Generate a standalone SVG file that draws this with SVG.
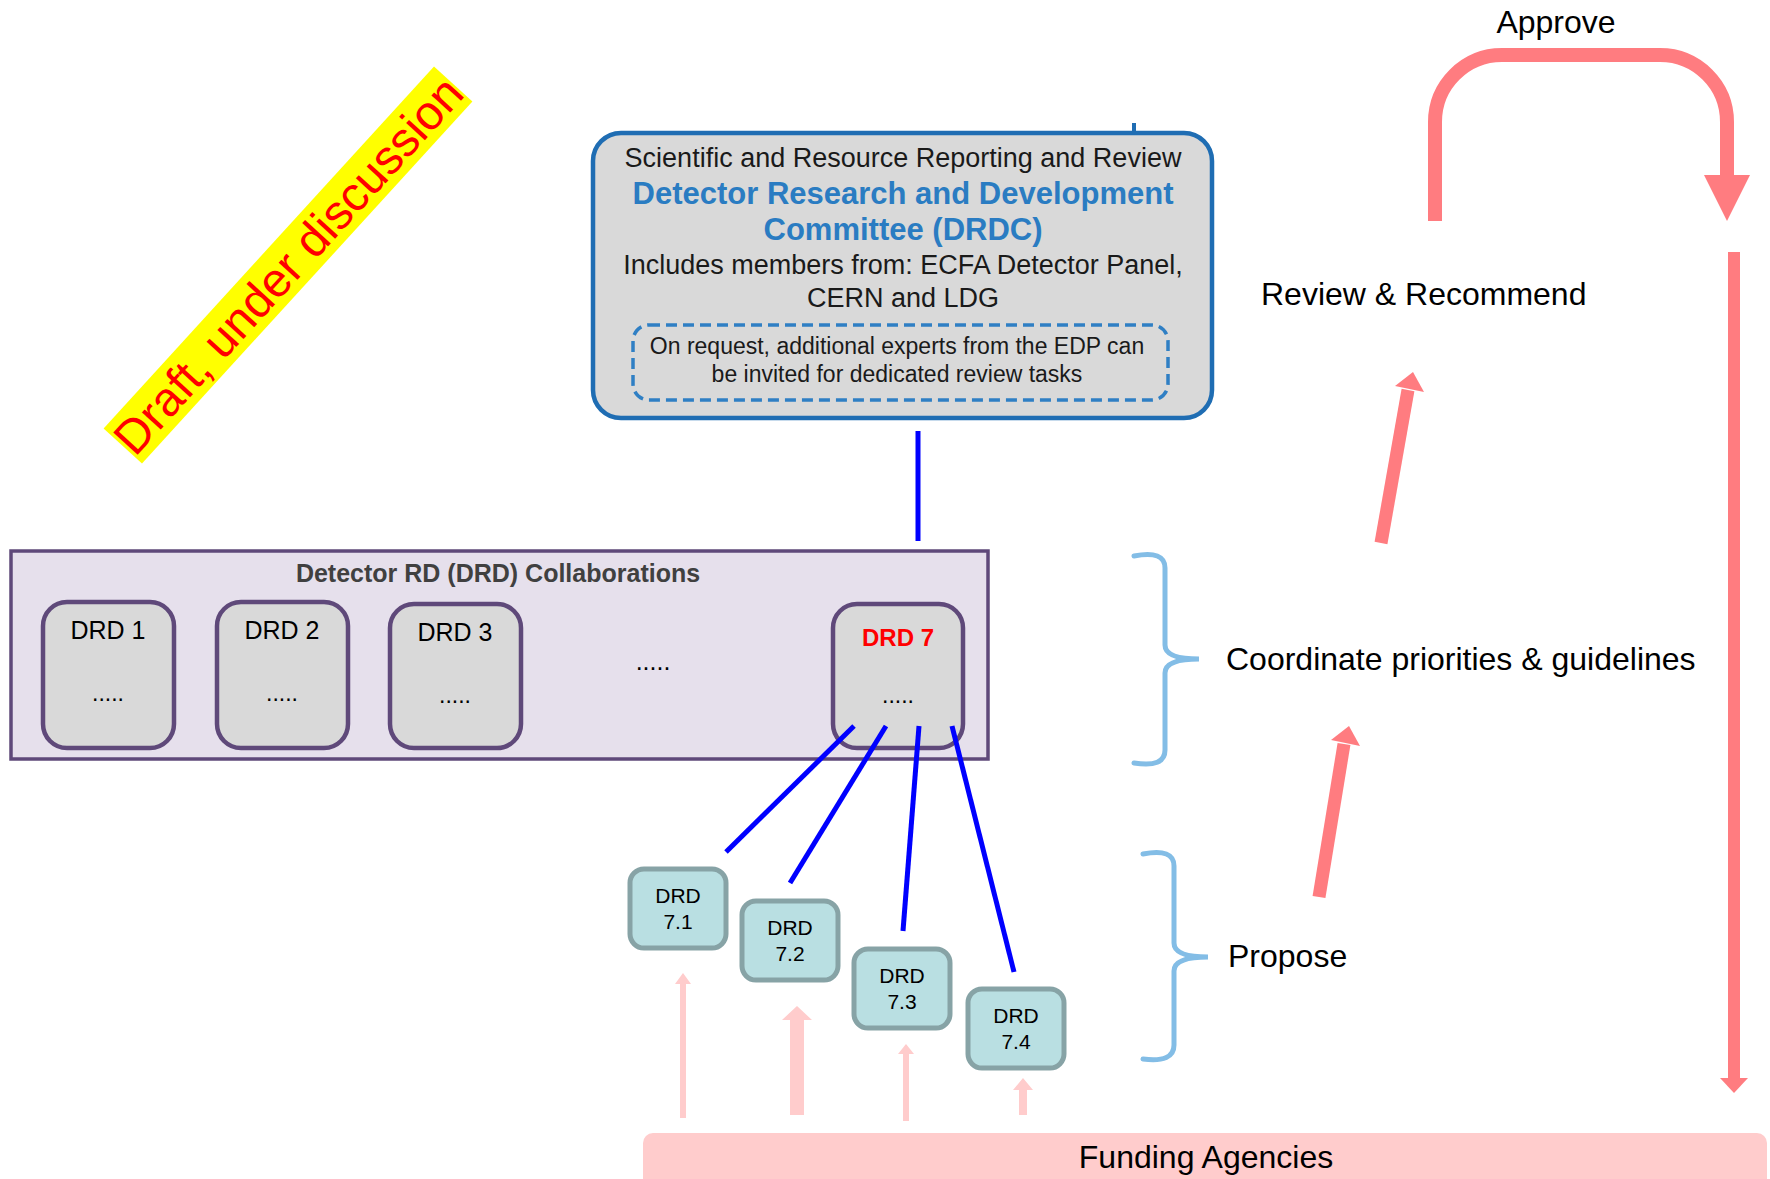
<svg xmlns="http://www.w3.org/2000/svg" width="1770" height="1179" viewBox="0 0 1770 1179">
  <style>
    text { font-family: "Liberation Sans", Arial, sans-serif; }
    .drdc-box { fill: #d9d9d9; stroke: #1f6db3; stroke-width: 4.5; }
    .dash-box { fill: none; stroke: #2f7fc4; stroke-width: 3.5; stroke-dasharray: 11 6; }
    .collab { fill: #e6e0ec; stroke: #5f497a; stroke-width: 3.5; }
    .drd { fill: #d9d9d9; stroke: #5f497a; stroke-width: 4.5; }
    .sub { fill: #b9dfe2; stroke: #87a3a6; stroke-width: 5; }
    .link { stroke: #0000ff; stroke-width: 5; fill: none; }
    .flow { stroke: #ff7c80; fill: none; }
    .brace { stroke: #83bde6; stroke-width: 5; fill: none; stroke-linecap: round; }
    .lbl { font-size: 32px; fill: #000; }
    .dark { fill: #1a1a1a; }
    .fund-up { fill: #ffcccc; }
  </style>

  <!-- Draft banner -->
  <g id="draft-banner" transform="translate(288,265) rotate(-47.6)">
    <rect x="-245" y="-26" width="490" height="52" fill="#ffff00"/>
    <text x="0" y="17" font-size="48" fill="#ff0000" text-anchor="middle">Draft, under discussion</text>
  </g>

  <!-- DRDC committee -->
  <g id="drdc">
    <line x1="1134" y1="123" x2="1134" y2="134" stroke="#1f6db3" stroke-width="4"/>
    <rect class="drdc-box" x="593" y="133" width="619" height="285" rx="28"/>
    <text x="903" y="167" font-size="27" text-anchor="middle" class="dark">Scientific and Resource Reporting and Review</text>
    <text x="903" y="204" font-size="31" font-weight="bold" fill="#2a7cc2" text-anchor="middle">Detector Research and Development</text>
    <text x="903" y="240" font-size="31" font-weight="bold" fill="#2a7cc2" text-anchor="middle">Committee (DRDC)</text>
    <text x="903" y="274" font-size="27" text-anchor="middle" class="dark">Includes members from: ECFA Detector Panel,</text>
    <text x="903" y="307" font-size="27" text-anchor="middle" class="dark">CERN and LDG</text>
    <rect class="dash-box" x="633" y="325" width="535" height="75" rx="16"/>
    <text x="897" y="354" font-size="23" text-anchor="middle" class="dark">On request, additional experts from the EDP can</text>
    <text x="897" y="382" font-size="23" text-anchor="middle" class="dark">be invited for dedicated review tasks</text>
  </g>

  <!-- DRD collaborations container -->
  <g id="collaborations">
    <rect class="collab" x="11" y="551" width="977" height="208"/>
    <text x="498" y="582" font-size="25" font-weight="bold" fill="#404040" text-anchor="middle">Detector RD (DRD) Collaborations</text>
    <text x="653" y="670" font-size="25" text-anchor="middle">.....</text>
  </g>

  <g id="drd1">
    <rect class="drd" x="43" y="602" width="131" height="146" rx="24"/>
    <text x="108" y="639" font-size="25" text-anchor="middle">DRD 1</text>
    <text x="108" y="701" font-size="23" text-anchor="middle">.....</text>
  </g>
  <g id="drd2">
    <rect class="drd" x="217" y="602" width="131" height="146" rx="24"/>
    <text x="282" y="639" font-size="25" text-anchor="middle">DRD 2</text>
    <text x="282" y="701" font-size="23" text-anchor="middle">.....</text>
  </g>
  <g id="drd3">
    <rect class="drd" x="390" y="604" width="131" height="144" rx="24"/>
    <text x="455" y="641" font-size="25" text-anchor="middle">DRD 3</text>
    <text x="455" y="703" font-size="23" text-anchor="middle">.....</text>
  </g>
  <g id="drd7">
    <rect class="drd" x="833" y="604" width="130" height="144" rx="24"/>
    <text x="898" y="646" font-size="24" font-weight="bold" fill="#ff0000" text-anchor="middle">DRD 7</text>
    <text x="898" y="703" font-size="23" text-anchor="middle">.....</text>
  </g>

  <!-- DRD 7 sub-projects -->
  <g id="drd7-1">
    <rect class="sub" x="630" y="869" width="96" height="79" rx="14"/>
    <text x="678" y="903" font-size="21" text-anchor="middle">DRD</text>
    <text x="678" y="929" font-size="21" text-anchor="middle">7.1</text>
  </g>
  <g id="drd7-2">
    <rect class="sub" x="742" y="901" width="96" height="79" rx="14"/>
    <text x="790" y="935" font-size="21" text-anchor="middle">DRD</text>
    <text x="790" y="961" font-size="21" text-anchor="middle">7.2</text>
  </g>
  <g id="drd7-3">
    <rect class="sub" x="854" y="949" width="96" height="79" rx="14"/>
    <text x="902" y="983" font-size="21" text-anchor="middle">DRD</text>
    <text x="902" y="1009" font-size="21" text-anchor="middle">7.3</text>
  </g>
  <g id="drd7-4">
    <rect class="sub" x="968" y="989" width="96" height="79" rx="14"/>
    <text x="1016" y="1023" font-size="21" text-anchor="middle">DRD</text>
    <text x="1016" y="1049" font-size="21" text-anchor="middle">7.4</text>
  </g>

  <!-- Funding agencies bar -->
  <g id="funding-agencies">
    <rect x="643" y="1133" width="1124" height="60" rx="10" fill="#ffcccc"/>
    <text x="1206" y="1168" font-size="32" text-anchor="middle">Funding Agencies</text>
  </g>

  <!-- Side labels -->
  <g id="labels">
    <text class="lbl" x="1556" y="33" text-anchor="middle">Approve</text>
    <text class="lbl" x="1261" y="305">Review &amp; Recommend</text>
    <text class="lbl" x="1226" y="670">Coordinate priorities &amp; guidelines</text>
    <text class="lbl" x="1228" y="967">Propose</text>
  </g>

  <!-- Connectors -->
  <g id="connectors">
    <!-- DRDC to collaborations -->
    <line class="link" x1="918" y1="431" x2="918" y2="541"/>
    <!-- DRD 7 to sub-projects -->
    <line class="link" x1="854" y1="726" x2="726" y2="852"/>
    <line class="link" x1="886" y1="726" x2="790" y2="883"/>
    <line class="link" x1="919" y1="726" x2="903" y2="931"/>
    <line class="link" x1="952" y1="726" x2="1014" y2="972"/>

    <!-- funding arrows up to the sub-projects -->
    <path class="fund-up" d="M680,1118 L680,984 L675,984 L683,973 L691,984 L686,984 L686,1118 Z"/>
    <path class="fund-up" d="M790,1115 L790,1020 L782,1020 L797,1006 L812,1020 L804,1020 L804,1115 Z"/>
    <path class="fund-up" d="M903,1121 L903,1054 L898,1054 L906,1044 L914,1054 L909,1054 L909,1121 Z"/>
    <path class="fund-up" d="M1019,1115 L1019,1090 L1013,1090 L1023,1078 L1033,1090 L1027,1090 L1027,1115 Z"/>

    <!-- Propose to coordinate -->
    <line class="flow" x1="1319" y1="897" x2="1344" y2="744" stroke-width="13"/>
    <polygon points="1331,740 1349,726 1360,746" fill="#ff7c80"/>
    <!-- Coordinate to review -->
    <line class="flow" x1="1381" y1="543" x2="1408" y2="390" stroke-width="13"/>
    <polygon points="1395,386 1413,372 1424,392" fill="#ff7c80"/>

    <!-- Approve loop -->
    <path class="flow" d="M1435,221 L1435,122 A67,67 0 0 1 1502,55 L1660,55 A67,67 0 0 1 1727,122 L1727,178" stroke-width="14"/>
    <polygon points="1704,175 1750,175 1727,221" fill="#ff7c80"/>

    <!-- Approval down to funding -->
    <line class="flow" x1="1734" y1="252" x2="1734" y2="1080" stroke-width="12"/>
    <polygon points="1720,1078 1748,1078 1734,1093" fill="#ff7c80"/>

    <!-- braces -->
    <path class="brace" d="M1134,556 Q1165,550 1165,568 L1165,645 Q1165,659 1199,659 Q1165,659 1165,673 L1165,750 Q1165,768 1134,763"/>
    <path class="brace" d="M1143,854 Q1174,848 1174,866 L1174,943 Q1174,957 1208,957 Q1174,957 1174,971 L1174,1045 Q1174,1063 1143,1059"/>
  </g>
</svg>
